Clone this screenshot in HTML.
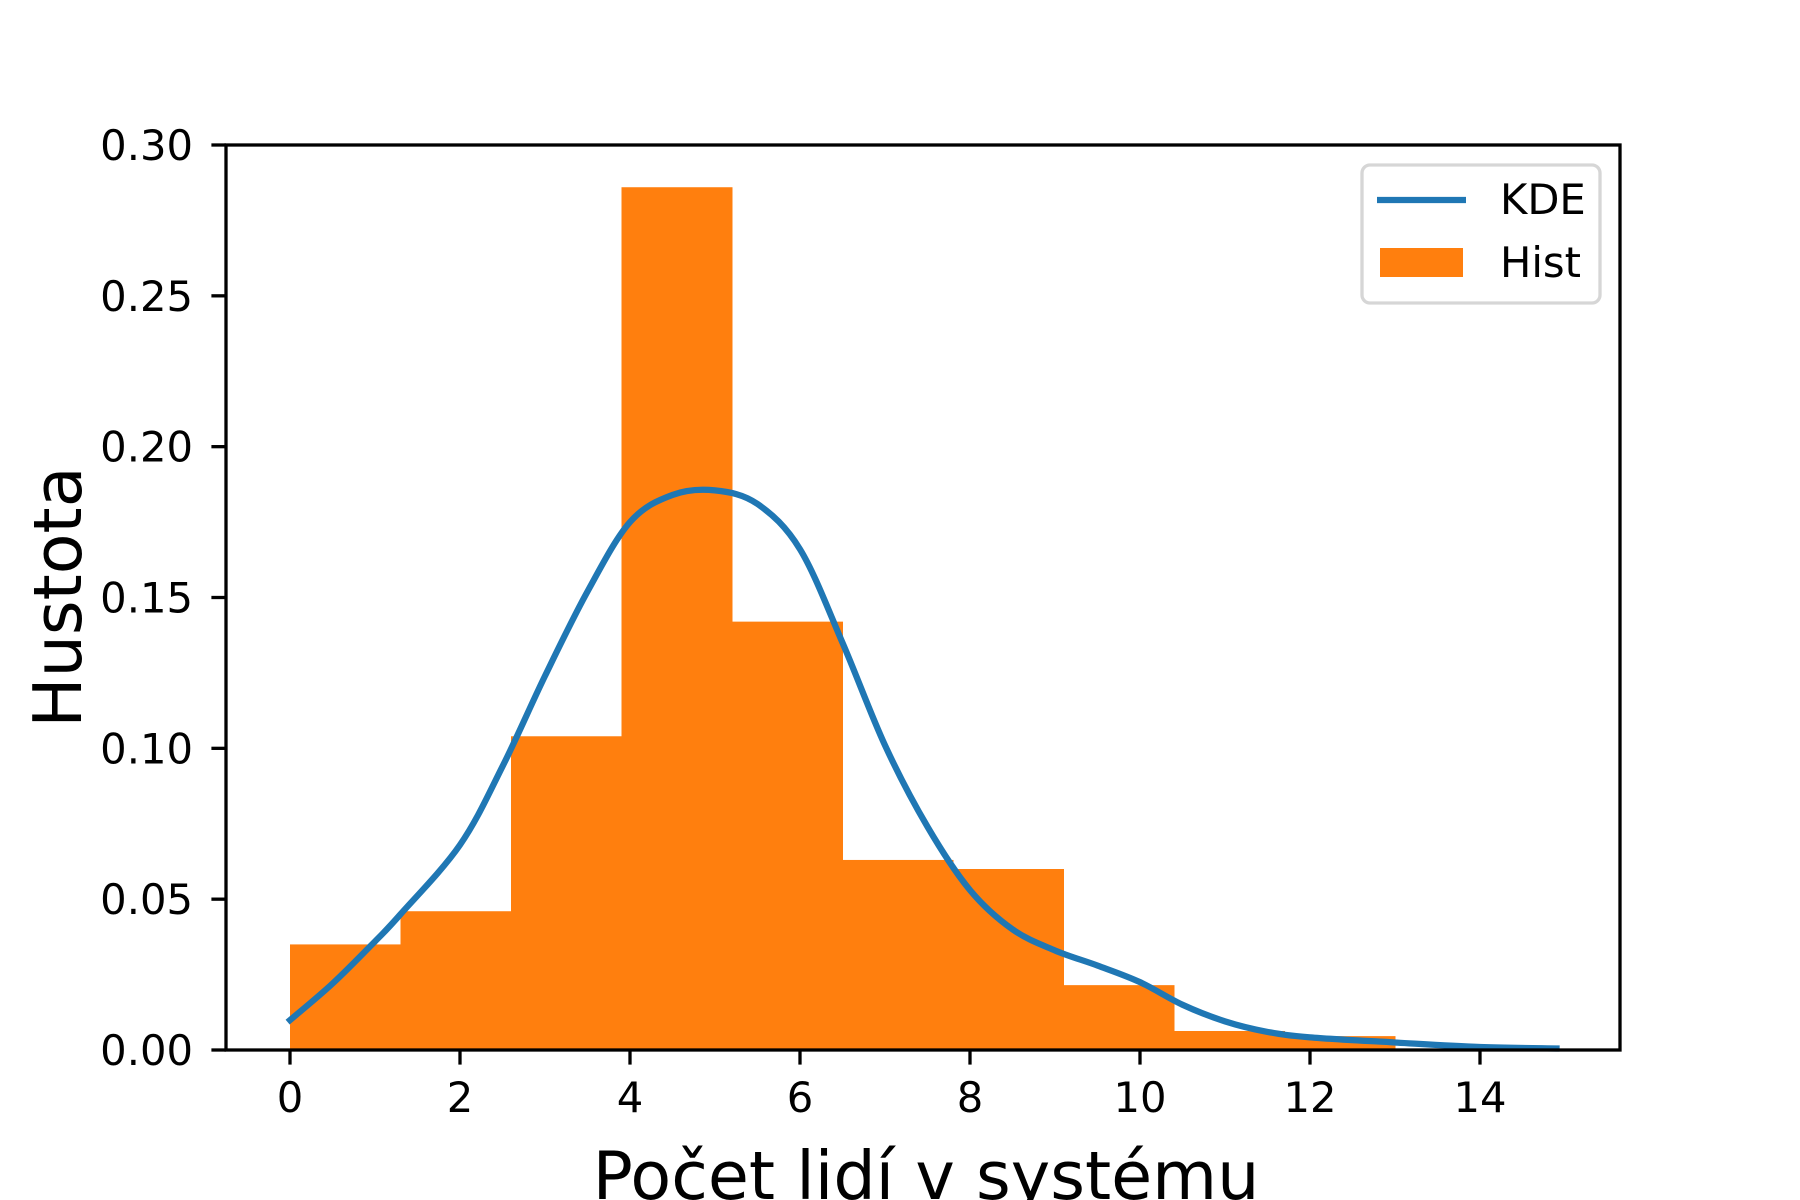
<!DOCTYPE html>
<html><head><meta charset="utf-8"><style>
body{margin:0;background:#fff}
svg{display:block;font-family:"DejaVu Sans","Liberation Sans",sans-serif}
</style></head><body>
<svg id="chart" width="1800" height="1200" viewBox="0 0 1800 1200" xmlns="http://www.w3.org/2000/svg">
<rect width="1800" height="1200" fill="#fff"/>
<g id="bars"></g>
<g id="kde"></g>
<g id="axes"></g>
<text x="926" y="1199" font-size="66.7" text-anchor="middle">Počet lidí v systému</text>
<text transform="translate(81,597) rotate(-90)" font-size="66.7" text-anchor="middle">Hustota</text>
<g>
<rect x="1362" y="165" width="238" height="138" rx="8" fill="#fff" fill-opacity="0.8" stroke="#d6d6d6" stroke-width="3.3"/>
<line x1="1377" y1="200" x2="1466" y2="200" stroke="#1f77b4" stroke-width="6.25"/>
<text x="1500" y="214" font-size="41.7">KDE</text>
<rect x="1380" y="248" width="83" height="29" fill="#ff7f0e"/>
<text x="1500" y="277" font-size="41.7">Hist</text>
</g>
</svg>
<script>
const binEdges=[0,1.3,2.6,3.9,5.2,6.5,7.8,9.1,10.4,11.7,13];
const binHeights=[0.035,0.046,0.104,0.286,0.142,0.063,0.060,0.0215,0.0063,0.0046];
const kdeX=[0,0.5,1,1.3,2,2.5,3,3.5,4,4.5,5,5.5,6,6.5,7,7.5,8,8.5,9,9.5,10,10.5,11,11.5,12,13,14,14.9];
const kdeY=[0.0099,0.022,0.036,0.045,0.068,0.094,0.124,0.152,0.175,0.184,0.1855,0.181,0.166,0.135,0.101,0.074,0.053,0.040,0.033,0.028,0.0225,0.015,0.0095,0.006,0.0042,0.0025,0.001,0.0005];
const xTicks=[0,2,4,6,8,10,12,14];
const yTicks=[0,0.05,0.10,0.15,0.20,0.25,0.30];
const yTickLabels=["0.00","0.05","0.10","0.15","0.20","0.25","0.30"];
const L=226,R=1620,T=145,B=1050;
const sx=v=>290+v*85;
const sy=v=>B-(v/0.3)*(B-T);
const NS="http://www.w3.org/2000/svg";
function mk(tag,attrs,parent){const e=document.createElementNS(NS,tag);for(const k in attrs)e.setAttribute(k,attrs[k]);parent.appendChild(e);return e;}
const bars=document.getElementById('bars');
binHeights.forEach((h,i)=>{
 const r=mk('rect',{x:sx(binEdges[i]),y:sy(h),width:sx(binEdges[i+1])-sx(binEdges[i])+0.5,height:B-sy(h),fill:'#ff7f0e'},bars);
 
 
});
// catmull-rom path
const pts=kdeX.map((x,i)=>[sx(x),sy(kdeY[i])]);
let d='M'+pts[0][0]+','+pts[0][1];
for(let i=0;i<pts.length-1;i++){
 const p0=pts[Math.max(0,i-1)],p1=pts[i],p2=pts[i+1],p3=pts[Math.min(pts.length-1,i+2)];
 const c1=[p1[0]+(p2[0]-p0[0])/6,p1[1]+(p2[1]-p0[1])/6];
 const c2=[p2[0]-(p3[0]-p1[0])/6,p2[1]-(p3[1]-p1[1])/6];
 d+=' C'+c1[0]+','+c1[1]+' '+c2[0]+','+c2[1]+' '+p2[0]+','+p2[1];
}
const kp=mk('path',{d:d,fill:'none',stroke:'#1f77b4','stroke-width':6.25,'stroke-linejoin':'round','stroke-linecap':'square'},document.getElementById('kde'));


const ax=document.getElementById('axes');
const fr=mk('rect',{x:L,y:T,width:R-L,height:B-T,fill:'none',stroke:'#000','stroke-width':3.3},ax);


xTicks.forEach(v=>{
 const t=mk('line',{x1:sx(v),x2:sx(v),y1:B,y2:B+14.6,stroke:'#000','stroke-width':3.3},ax);
 
 
 const l=mk('text',{x:sx(v),y:1112,'font-size':41.7,'text-anchor':'middle'},ax);
 l.textContent=String(v);
 
 
});
yTicks.forEach((v,i)=>{
 const t=mk('line',{x1:L-14.6,x2:L,y1:sy(v),y2:sy(v),stroke:'#000','stroke-width':3.3},ax);
 
 
 const l=mk('text',{x:193,y:sy(v)+15,'font-size':41.7,'text-anchor':'end'},ax);
 l.textContent=yTickLabels[i];
 
 
});
</script>
</body></html>
